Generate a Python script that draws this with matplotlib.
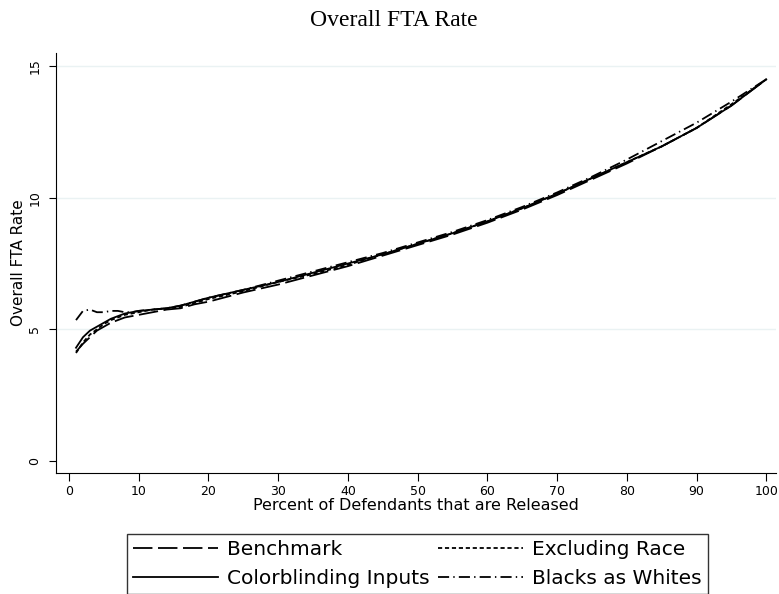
import matplotlib
matplotlib.use("Agg")
import matplotlib.pyplot as plt

plt.rcParams['lines.scale_dashes'] = False

# percent released
pct = [1, 2, 3, 4, 5, 6, 7, 8, 9, 10, 12, 14, 16, 18, 20, 25, 30, 35, 40,
       45, 50, 55, 60, 65, 70, 75, 80, 85, 90, 95, 100]

benchmark = [4.15, 4.45, 4.70, 4.95, 5.10, 5.25, 5.35, 5.45, 5.50, 5.55, 5.65,
             5.75, 5.80, 5.95, 6.05, 6.40, 6.70, 7.05, 7.40, 7.80, 8.20, 8.60,
             9.05, 9.55, 10.10, 10.70, 11.30, 11.95, 12.65, 13.50, 14.50]
excl_race = [4.10, 4.50, 4.80, 5.00, 5.20, 5.35, 5.45, 5.55, 5.60, 5.65, 5.75,
             5.80, 5.85, 6.00, 6.15, 6.45, 6.80, 7.10, 7.45, 7.85, 8.25, 8.65,
             9.10, 9.60, 10.15, 10.75, 11.35, 11.95, 12.65, 13.55, 14.50]
colorblind = [4.30, 4.70, 4.95, 5.10, 5.25, 5.40, 5.50, 5.60, 5.65, 5.70, 5.75,
              5.80, 5.90, 6.05, 6.20, 6.50, 6.80, 7.15, 7.50, 7.85, 8.25, 8.65,
              9.10, 9.60, 10.15, 10.75, 11.35, 11.95, 12.65, 13.50, 14.50]
blk_as_wht = [5.35, 5.70, 5.75, 5.65, 5.65, 5.70, 5.70, 5.65, 5.65, 5.70, 5.75,
              5.80, 5.90, 6.05, 6.20, 6.50, 6.85, 7.20, 7.55, 7.90, 8.30, 8.70,
              9.15, 9.65, 10.20, 10.80, 11.45, 12.15, 12.85, 13.65, 14.50]

xticks = list(range(0, 101, 10))
yticks = [0, 5, 10, 15]

fig = plt.figure(figsize=(7.79, 5.94), dpi=100)
ax = fig.add_axes([56/779, 121/594, 720/779, 420/594])

for yv in yticks[1:]:
    ax.axhline(yv, color='#eaf2f3', lw=1.0, zorder=0)

lw = 1.3
ax.plot(pct, benchmark, color='black', lw=lw, dashes=(14, 4), label='Benchmark')
ax.plot(pct, excl_race, color='black', lw=lw, dashes=(3, 2), label='Excluding Race')
ax.plot(pct, colorblind, color='black', lw=lw, label='Colorblinding Inputs')
ax.plot(pct, blk_as_wht, color='black', lw=lw, dashes=(8, 3, 1, 3), label='Blacks as Whites')

ax.set_xlim(-1.87, 101.4)
ax.set_ylim(-0.46, 15.5)
ax.set_xticks(xticks)
ax.set_yticks(yticks)
ax.tick_params(axis='x', labelsize=9, length=6, pad=2.5)
ax.tick_params(axis='y', labelsize=9, length=5, pad=5.5)
for lab in ax.get_yticklabels():
    lab.set_rotation(90)
    lab.set_va('center')
ax.spines['top'].set_visible(False)
ax.spines['right'].set_visible(False)

ax.set_xlabel('Percent of Defendants that are Released', fontsize=11.5, labelpad=0)
ax.set_ylabel('Overall FTA Rate', fontsize=11)
ax.yaxis.set_label_coords(-0.042, 0.5)

fig.text(0.506, 1 - 21/594, 'Overall FTA Rate', ha='center', va='center',
         family='Liberation Serif', fontsize=17)

# legend order: Benchmark, Colorblinding | Excluding, Blacks as Whites
h, l = ax.get_legend_handles_labels()
order = [0, 2, 1, 3]
leg = fig.legend([h[i] for i in order], [l[i] for i in order],
                 loc='upper left', bbox_to_anchor=(127/779, 1 - 534/594),
                 ncol=2, fontsize=14.5, handlelength=4.2, handletextpad=0.45,
                 columnspacing=0.45, labelspacing=0.5, borderpad=0.3,
                 borderaxespad=0, fancybox=False, frameon=True, edgecolor='black')
leg.get_frame().set_linewidth(1.0)

fig.savefig('out.png', dpi=100)
